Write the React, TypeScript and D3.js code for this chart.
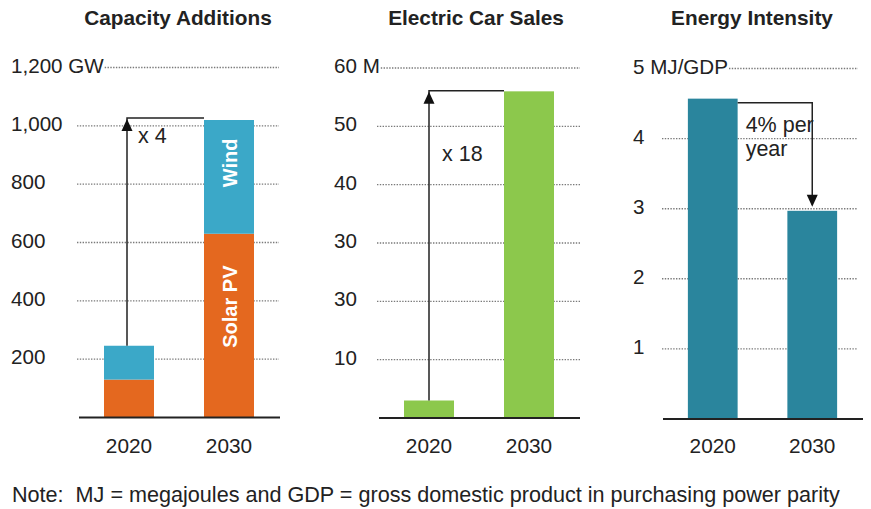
import React, { useEffect, useRef } from "react";
import * as d3 from "d3";

const years = ["2020", "2030"];

const capacityTicks = [200, 400, 600, 800, 1000, 1200];
const capacityTickLabels = ["200", "400", "600", "800", "1,000", "1,200 GW"];
const solarPV = [130, 630];
const wind = [116, 390];

const carTicks = [10, 20, 30, 40, 50, 60];
const carTickLabels = ["10", "30", "30", "40", "50", "60 M"];
const carSales = [3, 56];

const intensityTicks = [1, 2, 3, 4, 5];
const intensityTickLabels = ["1", "2", "3", "4", "5 MJ/GDP"];
const intensity = [4.57, 2.97];

const titles = ["Capacity Additions", "Electric Car Sales", "Energy Intensity"];
const note = "Note:  MJ = megajoules and GDP = gross domestic product in purchasing power parity";

const FONT = "'Liberation Sans', Arial, Helvetica, sans-serif";
const ORANGE = "#E4681F";
const BLUE = "#3BA8C8";
const GREEN = "#8CC84C";
const TEAL = "#2A859D";
const INK = "#222";

export default function App() {
  const ref = useRef<SVGSVGElement | null>(null);

  useEffect(() => {
    const svg = d3.select(ref.current);
    svg.selectAll("*").remove();

    const panels = [
      { max: 1200, base: 417.5, top: 67.5, xr: [79, 279], grid: [77, 279], lx: 11, tx: 178, ticks: capacityTicks, labels: capacityTickLabels },
      { max: 60, base: 418, top: 68, xr: [379, 579], grid: [377, 580], lx: 334, tx: 476, ticks: carTicks, labels: carTickLabels },
      { max: 5, base: 419, top: 68.5, xr: [663, 862], grid: [662, 858], lx: 633, tx: 752, ticks: intensityTicks, labels: intensityTickLabels },
    ];

    const scales = panels.map((p) => ({
      y: d3.scaleLinear().domain([0, p.max]).range([p.base, p.top]),
      x: d3.scaleBand<string>().domain(years).range(p.xr as [number, number]).paddingInner(0.5).paddingOuter(0.25),
    }));

    const gridG = svg.append("g");
    const barG = svg.append("g");
    const axisG = svg.append("g");
    const annG = svg.append("g");
    const textG = svg.append("g");

    panels.forEach((p, i) => {
      const { x, y } = scales[i];
      textG.append("text").attr("x", p.tx).attr("y", 25).attr("text-anchor", "middle")
        .attr("font-family", FONT).attr("font-weight", "bold").attr("font-size", 20.8).attr("fill", INK)
        .text(titles[i]);
      p.ticks.forEach((t, k) => {
        const gy = y(t);
        const lbl = textG.append("text").attr("x", p.lx).attr("y", gy + 5)
          .attr("font-family", FONT).attr("font-size", 20.6).attr("fill", INK).text(p.labels[k]);
        const w = (lbl.node() as SVGTextElement).getComputedTextLength();
        const x0 = Math.max(p.grid[0], p.lx + w + 1);
        gridG.append("line").attr("x1", x0).attr("x2", p.grid[1]).attr("y1", gy).attr("y2", gy)
          .attr("stroke", "#7a7a7a").attr("stroke-width", 1.4).attr("stroke-dasharray", "1.4,1.4");
      });
      years.forEach((yr) => {
        textG.append("text").attr("x", (x(yr) as number) + x.bandwidth() / 2).attr("y", 453)
          .attr("text-anchor", "middle").attr("font-family", FONT).attr("font-size", 20.8).attr("fill", INK).text(yr);
      });
      axisG.append("line").attr("x1", p.xr[0]).attr("x2", p.xr[1] + 1).attr("y1", p.base).attr("y2", p.base)
        .attr("stroke", INK).attr("stroke-width", 2);
    });

    const arrowHead = (g: any, cx: number, tipY: number, dir: "up" | "down") => {
      const h = 12, w = 5.5;
      const by = dir === "up" ? tipY + h : tipY - h;
      g.append("path").attr("d", `M${cx},${tipY}L${cx - w},${by}L${cx + w},${by}Z`).attr("fill", "#111");
    };

    const ANN = 21.5;

    // Panel 1: stacked bars
    {
      const { x, y } = scales[0];
      const bw = x.bandwidth();
      years.forEach((yr, j) => {
        const x0 = x(yr) as number;
        barG.append("rect").attr("x", x0).attr("width", bw).attr("y", y(solarPV[j])).attr("height", y(0) - y(solarPV[j])).attr("fill", ORANGE);
        barG.append("rect").attr("x", x0).attr("width", bw).attr("y", y(solarPV[j] + wind[j])).attr("height", y(solarPV[j]) - y(solarPV[j] + wind[j])).attr("fill", BLUE);
      });
      const cx = (x("2030") as number) + bw / 2 + 1;
      const windMid = (y(solarPV[1]) + y(solarPV[1] + wind[1])) / 2 - 14;
      const solarMid = (y(0) + y(solarPV[1])) / 2 - 19;
      textG.append("text").attr("transform", `translate(${cx},${windMid}) rotate(-90)`).attr("dy", "0.36em")
        .attr("text-anchor", "middle").attr("font-family", FONT).attr("font-weight", "bold").attr("font-size", 20).attr("fill", "#fff").text("Wind");
      textG.append("text").attr("transform", `translate(${cx},${solarMid}) rotate(-90)`).attr("dy", "0.36em")
        .attr("text-anchor", "middle").attr("font-family", FONT).attr("font-weight", "bold").attr("font-size", 20).attr("fill", "#fff").text("Solar PV");
      const ax = (x("2020") as number) + bw / 2 - 2;
      const yTop = y(solarPV[1] + wind[1]) - 2;
      annG.append("path").attr("d", `M${ax},${y(solarPV[0] + wind[0])}V${yTop}H${x("2030") as number}`)
        .attr("fill", "none").attr("stroke", "#222").attr("stroke-width", 1.5);
      arrowHead(annG, ax, yTop + 1, "up");
      textG.append("text").attr("x", ax + 11).attr("y", 143).attr("font-family", FONT).attr("font-size", ANN).attr("fill", INK).text("x 4");
    }

    // Panel 2
    {
      const { x, y } = scales[1];
      const bw = x.bandwidth();
      years.forEach((yr, j) => {
        barG.append("rect").attr("x", x(yr) as number).attr("width", bw).attr("y", y(carSales[j])).attr("height", y(0) - y(carSales[j])).attr("fill", GREEN);
      });
      const ax = (x("2020") as number) + bw / 2;
      const yTop = y(carSales[1]) - 0.5;
      annG.append("path").attr("d", `M${ax},${y(carSales[0])}V${yTop}H${x("2030") as number}`)
        .attr("fill", "none").attr("stroke", "#222").attr("stroke-width", 1.5);
      arrowHead(annG, ax, yTop + 1, "up");
      textG.append("text").attr("x", ax + 13).attr("y", 161).attr("font-family", FONT).attr("font-size", ANN).attr("fill", INK).text("x 18");
    }

    // Panel 3
    {
      const { x, y } = scales[2];
      const bw = x.bandwidth();
      years.forEach((yr, j) => {
        barG.append("rect").attr("x", x(yr) as number).attr("width", bw).attr("y", y(intensity[j])).attr("height", y(0) - y(intensity[j])).attr("fill", TEAL);
      });
      const x0 = (x("2020") as number) + bw;
      const x1 = (x("2030") as number) + bw / 2;
      const hy = y(intensity[0]) + 4;
      const tip = y(intensity[1]) - 4;
      annG.append("path").attr("d", `M${x0},${hy}H${x1}V${tip - 2}`)
        .attr("fill", "none").attr("stroke", "#222").attr("stroke-width", 1.5);
      arrowHead(annG, x1, tip, "down");
      textG.append("text").attr("x", x0 + 8).attr("y", 132).attr("font-family", FONT).attr("font-size", ANN).attr("fill", INK).text("4% per");
      textG.append("text").attr("x", x0 + 8).attr("y", 156).attr("font-family", FONT).attr("font-size", ANN).attr("fill", INK).text("year");
    }

    textG.append("text").attr("x", 12).attr("y", 502).attr("font-family", FONT).attr("font-size", 21.6)
      .attr("fill", INK).style("white-space", "pre").text(note);
  }, []);

  return (
    <svg ref={ref} width={871} height={509} style={{ position: "absolute", left: 0, top: 0, background: "#fff" }} />
  );
}
